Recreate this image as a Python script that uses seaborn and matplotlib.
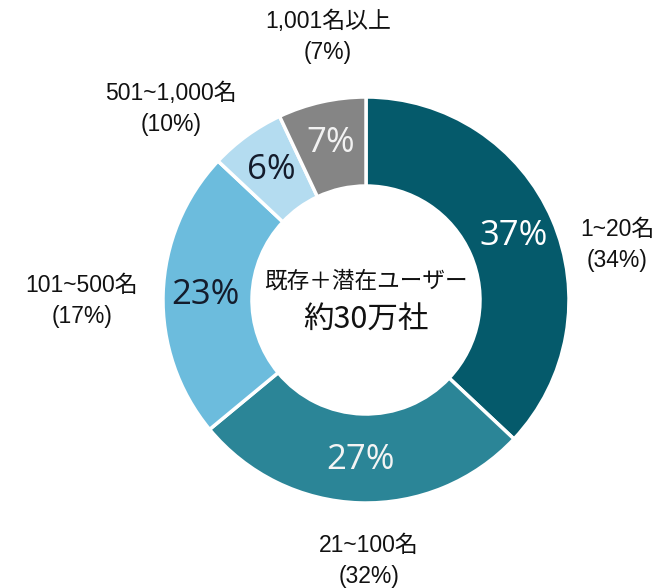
import matplotlib
matplotlib.use("Agg")
import matplotlib.pyplot as plt
import seaborn as sns

# ---- data ----
categories = ["1~20名", "21~100名", "101~500名", "501~1,000名", "1,001名以上"]
share_pct = [37, 27, 23, 6, 7]          # values shown inside the donut
outer_pct = [34, 32, 17, 10, 7]         # values shown in parentheses
center_line1 = "既存＋潜在ユーザー"
center_line2 = "約30万社"

colors = ["#055a6b", "#2b8597", "#6cbcdd", "#b4dcf0", "#858585"]
pct_text_colors = ["white", "#f4f4f4", "#141c2c", "#141c2c", "#f2f2f2"]

sns.set_theme(style="white")
plt.rcParams["font.family"] = ["Liberation Sans", "Noto Sans CJK JP", "DejaVu Sans"]

W, H = 656, 588
fig = plt.figure(figsize=(W / 100, H / 100), dpi=100)
ax = fig.add_axes([0, 0, 1, 1])

cx, cy = 366, H - 300
R = 203
wedges, texts, autotexts = ax.pie(
    share_pct,
    radius=R,
    center=(cx, cy),
    startangle=90,
    counterclock=False,
    colors=colors,
    autopct=lambda p: f"{round(p):d}%",
    pctdistance=0.79,
    wedgeprops=dict(width=89, edgecolor="white", linewidth=2.5),
    textprops=dict(fontsize=25, family=["Open Sans", "DejaVu Sans"]),
    frame=True,
)
ax.set_xlim(0, W)
ax.set_ylim(0, H)
ax.set_aspect("equal")
ax.axis("off")
for t, c in zip(autotexts, pct_text_colors):
    t.set_color(c)

# outside labels (pixel positions, y measured from top)
label_pos = [(617, 245), (369, 561), (82, 301), (171, 109), (328, 37)]
for cat, p, (x, y) in zip(categories, outer_pct, label_pos):
    ax.text(x, H - y, f"{cat}\n({p}%)", ha="center", va="center",
            fontsize=16.5, linespacing=1.45, color="#111111",
            family=["Liberation Sans", "Noto Sans CJK JP"])

ax.text(cx, H - 281, center_line1, ha="center", va="center", fontsize=16.3,
        color="#111111", family=["Noto Sans CJK JP", "DejaVu Sans"])
ax.text(cx, H - 320, center_line2, ha="center", va="center", fontsize=22,
        color="#111111", family=["Noto Sans CJK JP", "DejaVu Sans"])

fig.savefig("out.png", dpi=100, facecolor="white")
